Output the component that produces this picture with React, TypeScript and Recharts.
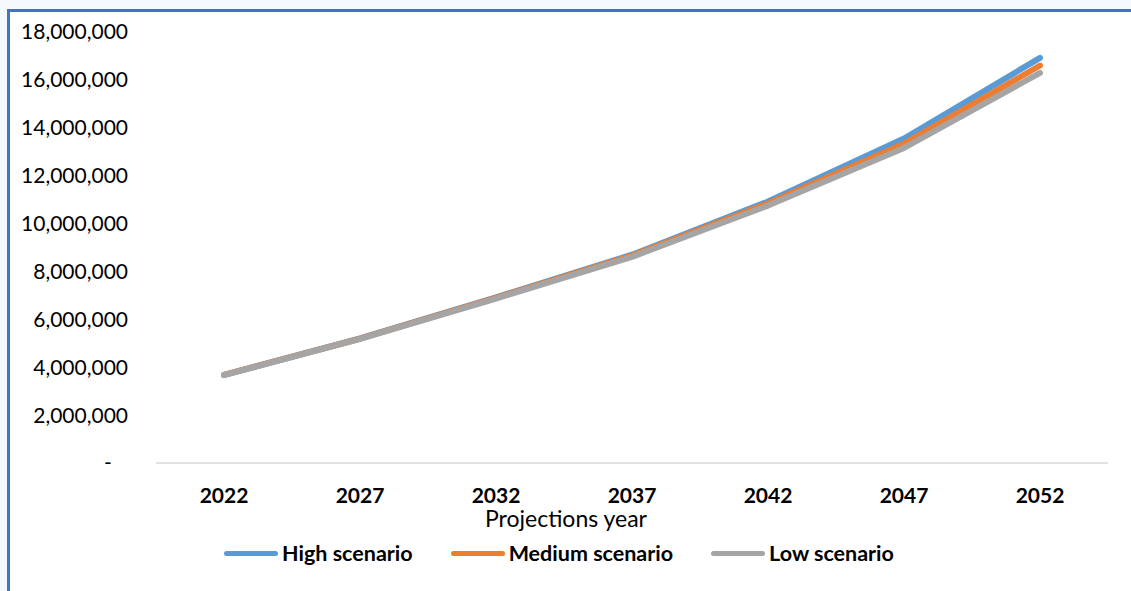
import React from "react";
import {
  LineChart,
  Line,
  XAxis,
  YAxis,
  Legend,
} from "recharts";

const YEARS = ["2022", "2027", "2032", "2037", "2042", "2047", "2052"];
const HIGH = [3680000, 5200000, 6920000, 8700000, 10920000, 13550000, 16920000];
const MEDIUM = [3680000, 5190000, 6900000, 8660000, 10840000, 13330000, 16600000];
const LOW = [3670000, 5180000, 6870000, 8610000, 10750000, 13160000, 16290000];
const Y_TICKS = [0, 2000000, 4000000, 6000000, 8000000, 10000000, 12000000, 14000000, 16000000, 18000000];

const SERIES = [
  { key: "high", name: "High scenario", color: "#5b9bd5" },
  { key: "medium", name: "Medium scenario", color: "#ed7d31" },
  { key: "low", name: "Low scenario", color: "#a5a5a5" },
];

const data = YEARS.map((year, i) => ({
  year,
  high: HIGH[i],
  medium: MEDIUM[i],
  low: LOW[i],
}));

const FONT = "Lato, 'Open Sans', sans-serif";

const formatY = (v: number) =>
  v === 0 ? "-\u00a0\u00a0\u00a0" : v.toLocaleString("en-US");

function LegendContent() {
  return (
    <div
      style={{
        display: "flex",
        justifyContent: "center",
        alignItems: "center",
        height: 26,
        fontFamily: FONT,
        fontWeight: 700,
        fontSize: 21.5,
        color: "#000",
        gap: 38,
      }}
    >
      {SERIES.map((s) => (
        <div key={s.key} style={{ display: "flex", alignItems: "center" }}>
          <span
            style={{
              display: "inline-block",
              width: 54,
              height: 5,
              borderRadius: 3,
              background: s.color,
              marginRight: 4,
            }}
          />
          <span>{s.name}</span>
        </div>
      ))}
    </div>
  );
}

function AxisTitle(props: any) {
  const { viewBox } = props;
  return (
    <text
      x={viewBox.x + viewBox.width / 2 - 66}
      y={viewBox.y + 64}
      textAnchor="middle"
      fontFamily={FONT}
      fontSize={23}
      fill="#000"
    >
      Projections year
    </text>
  );
}

export default function App() {
  return (
    <div
      style={{
        position: "absolute",
        left: 0,
        top: 0,
        width: 1131,
        height: 591,
        background: "#f3f9fd",
        overflow: "hidden",
      }}
    >
      <div
        style={{
          position: "absolute",
          left: 7,
          top: 9,
          width: 1140,
          height: 600,
          borderTop: "3px solid #4472c4",
          borderLeft: "3px solid #4472c4",
          background: "#fff",
        }}
      >
        <LineChart
          width={1120}
          height={580}
          data={data}
          margin={{ top: 20, right: 22, left: 0, bottom: 26 }}
        >
          <XAxis
            dataKey="year"
            height={77}
            padding={{ left: 68, right: 68 }}
            axisLine={{ stroke: "#d9d9d9", strokeWidth: 1.5 }}
            tickLine={false}
            tickMargin={19}
            tick={{ fontFamily: FONT, fontSize: 21, fontWeight: 700, fill: "#000" }}
            label={<AxisTitle />}
          />
          <YAxis
            width={146}
            domain={[0, 18000000]}
            ticks={Y_TICKS}
            axisLine={false}
            tickLine={false}
            tickMargin={22}
            tickFormatter={formatY}
            tick={{ fontFamily: FONT, fontSize: 21, fill: "#000" }}
          />
          <Legend verticalAlign="bottom" content={<LegendContent />} />
          {SERIES.map((s) => (
            <Line
              key={s.key}
              type="linear"
              dataKey={s.key}
              name={s.name}
              stroke={s.color}
              strokeWidth={6}
              strokeLinecap="round"
              strokeLinejoin="round"
              dot={false}
              activeDot={false}
              isAnimationActive={false}
            />
          ))}
        </LineChart>
      </div>
    </div>
  );
}
